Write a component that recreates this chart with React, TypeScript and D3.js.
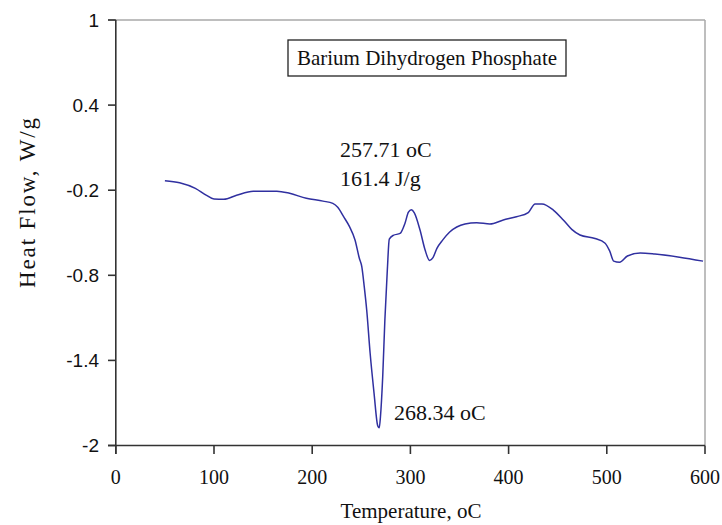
import React from "react";
import * as d3 from "d3";

const temps = [50, 65, 81, 92, 100, 110, 123, 140, 164, 177, 194, 211, 221, 226, 232, 238, 243.6, 248, 250.5, 253, 255.5, 259, 263, 266.7, 268.3, 269.5, 271.8, 274, 276.5, 278.5, 282.6, 289.5, 294.5, 298, 301, 304, 309.8, 314.9, 319.5, 323, 327, 333, 340, 355.6, 367.5, 381, 394.6, 408, 420, 427, 434, 445.5, 455.7, 464.3, 472.7, 488, 498, 503, 507, 513, 521, 534, 549, 574, 598];
const heatFlow = [-0.133, -0.147, -0.187, -0.235, -0.262, -0.264, -0.236, -0.208, -0.207, -0.222, -0.257, -0.277, -0.293, -0.32, -0.387, -0.457, -0.551, -0.68, -0.739, -0.88, -1.045, -1.35, -1.632, -1.86, -1.875, -1.797, -1.515, -1.115, -0.763, -0.545, -0.518, -0.505, -0.433, -0.355, -0.338, -0.36, -0.481, -0.62, -0.695, -0.675, -0.61, -0.55, -0.495, -0.438, -0.429, -0.438, -0.41, -0.387, -0.358, -0.297, -0.297, -0.34, -0.41, -0.476, -0.516, -0.54, -0.572, -0.63, -0.7, -0.708, -0.664, -0.643, -0.65, -0.672, -0.7];
const xTicks = [0, 100, 200, 300, 400, 500, 600];
const yTicks = [1, 0.4, -0.2, -0.8, -1.4, -2];
const titleText = "Barium Dihydrogen Phosphate";
const annotations = [
  { text: "257.71 oC", x: 340, y: 157 },
  { text: "161.4 J/g", x: 340, y: 186 },
  { text: "268.34 oC", x: 394, y: 420 },
];

export default function App() {
  const W = 722, H = 525;
  const left = 115.8, right = 705, top = 20, bottom = 445.5;
  const x = d3.scaleLinear().domain([0, 600]).range([left, right]);
  const y = d3.scaleLinear().domain([-2, 1]).range([bottom, top]);
  const pts: [number, number][] = temps.map((t, i) => [t, heatFlow[i]]);
  const line = d3
    .line<[number, number]>()
    .x((d) => x(d[0]))
    .y((d) => y(d[1]))
    .curve(d3.curveMonotoneX);
  const serif = "'Liberation Serif', 'Times New Roman', serif";
  const sans = "'Liberation Sans', Arial, sans-serif";
  return (
    <svg
      width={W}
      height={H}
      style={{ position: "absolute", left: 0, top: 0, background: "#fff" }}
    >
      <rect x={0} y={0} width={W} height={H} fill="#fff" />
      <line x1={108} x2={right} y1={top} y2={top} stroke="#a8a8a8" strokeWidth={1.5} />
      <line x1={right} x2={right} y1={top} y2={bottom} stroke="#a8a8a8" strokeWidth={1.5} />
      <line x1={left} x2={left} y1={top} y2={454} stroke="#333" strokeWidth={1.6} />
      <line x1={108} x2={right} y1={bottom} y2={bottom} stroke="#333" strokeWidth={1.6} />
      {yTicks.map((t) => (
        <g key={"y" + t}>
          <line x1={108} x2={left} y1={y(t)} y2={y(t)} stroke="#333" strokeWidth={1.6} />
          <text
            x={99}
            y={y(t)}
            dy="0.35em"
            textAnchor="end"
            fontFamily={sans}
            fontSize={19}
            fill="#111"
          >
            {t}
          </text>
        </g>
      ))}
      {xTicks.map((t) => (
        <g key={"x" + t}>
          <line x1={x(t)} x2={x(t)} y1={bottom} y2={454} stroke="#333" strokeWidth={1.6} />
          <text
            x={x(t)}
            y={484}
            textAnchor="middle"
            fontFamily={serif}
            fontSize={20}
            fill="#111"
          >
            {t}
          </text>
        </g>
      ))}
      <text
        x={411}
        y={518}
        textAnchor="middle"
        fontFamily={serif}
        fontSize={21}
        fill="#111"
      >
        Temperature, oC
      </text>
      <text
        transform={`translate(35,203) rotate(-90)`}
        textAnchor="middle"
        fontFamily={serif}
        fontSize={23}
        fill="#111"
        textLength={170}
        lengthAdjust="spacing"
      >
        Heat Flow, W/g
      </text>
      <rect x={288} y={40} width={278} height={36} fill="#fff" stroke="#222" strokeWidth={1.3} />
      <text
        x={427}
        y={65}
        textAnchor="middle"
        fontFamily={serif}
        fontSize={21}
        fill="#111"
      >
        {titleText}
      </text>
      <path d={line(pts) || ""} fill="none" stroke="#3030a0" strokeWidth={1.5} />
      {annotations.map((a) => (
        <text
          key={a.text}
          x={a.x}
          y={a.y}
          fontFamily={serif}
          fontSize={22}
          fill="#111"
        >
          {a.text}
        </text>
      ))}
    </svg>
  );
}
